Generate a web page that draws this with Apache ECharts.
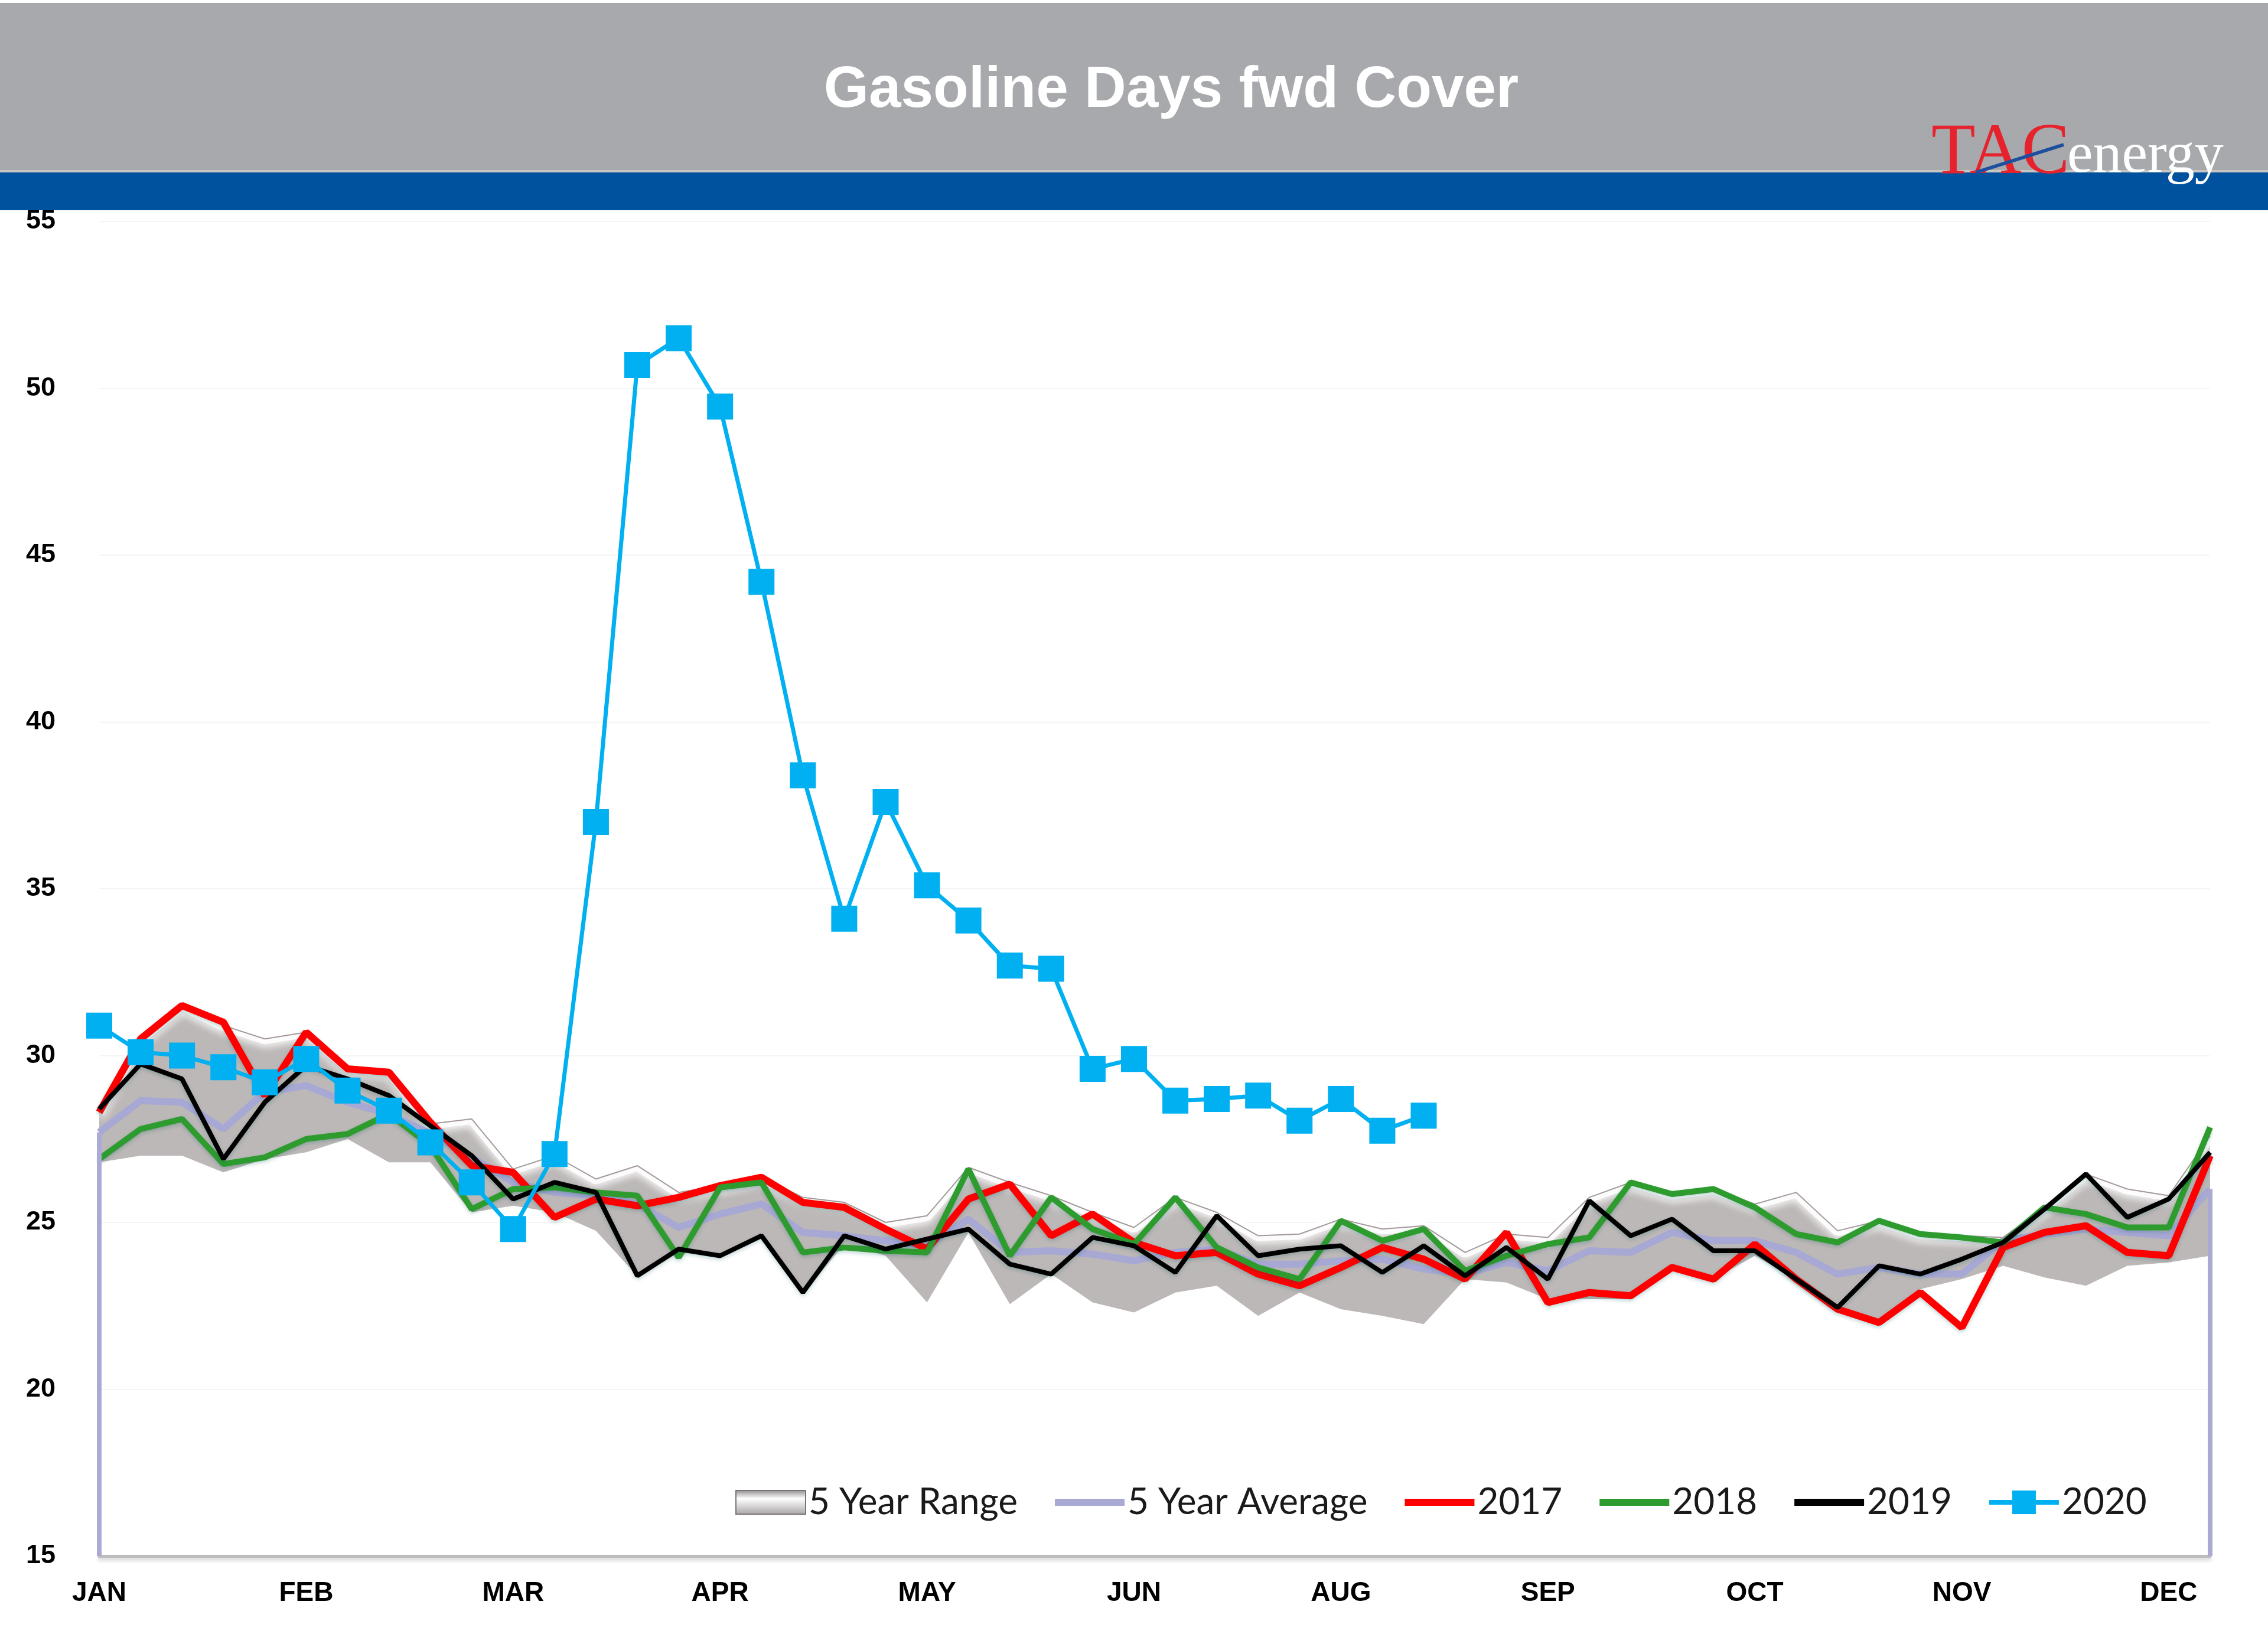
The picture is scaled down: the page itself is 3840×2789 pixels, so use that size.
<!DOCTYPE html>
<html>
<head>
<meta charset="utf-8">
<script src="https://cdn.jsdelivr.net/npm/echarts@6/dist/echarts.min.js"></script>
<style>
html,body{margin:0;padding:0;background:#ffffff;}
#chart{width:3840px;height:2789px;}
</style>
</head>
<body>
<div id="chart"></div>
<script>
// ---------------- DATA ----------------
const chartTitle = 'Gasoline Days fwd Cover';
const monthLabels = ['JAN','FEB','MAR','APR','MAY','JUN','AUG','SEP','OCT','NOV','DEC'];
const weeks = ['W1','W2','W3','W4','W5','W6','W7','W8','W9','W10','W11','W12','W13','W14','W15','W16','W17','W18','W19','W20','W21','W22','W23','W24','W25','W26','W27','W28','W29','W30','W31','W32','W33','W34','W35','W36','W37','W38','W39','W40','W41','W42','W43','W44','W45','W46','W47','W48','W49','W50','W51','W52'];
const yMin = 15, yMax = 55, yStep = 5;

const range5Min = [26.8,27.0,27.0,26.5,26.9,27.1,27.5,26.8,26.8,25.3,
  25.5,25.3,24.75,23.4,24.1,24.0,24.55,22.85,24.35,24.0,
  22.6,24.7,22.55,23.45,22.6,22.3,22.9,23.1,22.2,22.9,
  22.4,22.2,21.95,23.3,23.2,22.7,22.7,22.7,23.55,23.3,
  24.0,23.3,22.3,22.0,23.0,23.3,23.7,23.35,23.1,23.7,
  23.8,24.0];
const range5Max = [28.3,30.5,31.5,30.9,30.5,30.7,29.65,29.55,27.95,28.1,
  26.6,27.0,26.3,26.7,25.9,26.1,26.35,25.75,25.6,25.0,
  25.2,26.65,26.2,25.8,25.3,24.85,25.75,25.3,24.6,24.65,
  25.1,24.8,24.9,24.1,24.65,24.55,25.75,26.2,25.85,26.0,
  25.55,25.9,24.75,25.05,24.65,24.6,24.55,25.45,26.45,26.0,
  25.8,27.6];
const avg5 = [27.7,28.65,28.6,27.8,28.9,29.1,28.6,28.25,27.65,26.95,
  26.2,25.9,25.8,25.55,24.85,25.25,25.55,24.7,24.6,24.45,
  24.3,25.1,24.1,24.15,24.05,23.85,24.1,24.2,23.75,23.75,
  23.85,23.9,23.6,23.45,23.8,23.55,24.15,24.1,24.7,24.45,
  24.45,24.1,23.45,23.65,23.45,23.45,24.45,24.65,24.8,24.7,
  24.6,26.0];
const y2017 = [28.3,30.5,31.5,31.0,28.8,30.7,29.6,29.5,28.0,26.7,
  26.5,25.15,25.7,25.5,25.75,26.1,26.35,25.6,25.45,24.8,
  24.2,25.7,26.15,24.6,25.25,24.4,24.0,24.1,23.45,23.1,
  23.65,24.25,23.9,23.3,24.7,22.6,22.9,22.8,23.65,23.3,
  24.35,23.3,22.4,22.0,22.9,21.85,24.25,24.7,24.9,24.1,
  24.0,27.0];
const y2018 = [26.9,27.8,28.1,26.75,26.95,27.5,27.65,28.25,27.3,25.4,
  26.0,26.05,25.9,25.8,23.95,26.05,26.2,24.1,24.25,24.15,
  24.1,26.6,24.0,25.75,24.8,24.35,25.75,24.25,23.65,23.3,
  25.05,24.45,24.8,23.55,24.0,24.35,24.55,26.2,25.85,26.0,
  25.45,24.65,24.4,25.05,24.65,24.55,24.4,25.45,25.25,24.85,
  24.85,27.85];
const y2019 = [28.4,29.75,29.3,26.9,28.6,29.7,29.3,28.8,27.9,27.0,
  25.7,26.2,25.9,23.4,24.2,24.0,24.6,22.9,24.6,24.2,
  24.5,24.8,23.75,23.45,24.55,24.3,23.5,25.2,24.0,24.2,
  24.3,23.5,24.3,23.4,24.25,23.3,25.65,24.6,25.1,24.15,
  24.15,23.3,22.45,23.7,23.45,23.9,24.4,25.4,26.45,25.15,
  25.7,27.1];
const y2020 = [30.9,30.1,30.0,29.65,29.2,29.9,28.95,28.35,27.4,26.2,
  24.8,27.05,37.0,50.7,51.5,49.45,44.2,38.4,34.1,37.6,
  35.1,34.05,32.7,32.6,29.6,29.9,28.65,28.7,28.8,28.05,
  28.7,27.75,28.2];

// derived: band thickness for the stacked range area
const rangeSpan = range5Max.map((v, i) => +(v - range5Min[i]).toFixed(2));

// ---------------- CHART ----------------
const chart = echarts.init(document.getElementById('chart'), null, {renderer: 'canvas'});

const gridLeft = 168, gridRight = 98, gridTop = 375, gridBottom = 154;
const lineShadow = {shadowColor: 'rgba(0,90,90,0.25)', shadowBlur: 6, shadowOffsetY: 3};
const barIcon = 'path://M0,0h118v12h-118z';
const markerIcon = 'path://M0,16h118v8h-118z M39,0h40v40h-40z';

const option = {
  backgroundColor: '#ffffff',
  animation: false,
  grid: {left: gridLeft, right: gridRight, top: gridTop, bottom: gridBottom, containLabel: false},
  graphic: [
    {type: 'rect', z: 0, shape: {x: 0, y: 5, width: 3840, height: 285}, style: {fill: '#a7a9ac'}},
    {type: 'rect', z: 0, shape: {x: 0, y: 288, width: 3840, height: 4}, style: {fill: '#c9c6c2'}},
    {type: 'rect', z: 0, shape: {x: 0, y: 292, width: 3840, height: 64}, style: {fill: '#00529f'}},
    {type: 'text', z: 10, x: 1983, y: 154, style: {
      text: chartTitle, fill: '#ffffff', font: 'bold 98px "Liberation Sans", Arial, sans-serif',
      textAlign: 'center', textVerticalAlign: 'middle',
      shadowColor: 'rgba(40,40,40,0.75)', shadowBlur: 5, shadowOffsetX: 2, shadowOffsetY: 6}},
    {type: 'text', z: 10, x: 3270, y: 322, style: {
      text: 'TAC', fill: '#e6232d', font: '122px "Liberation Serif", "Times New Roman", serif',
      textAlign: 'left', textVerticalAlign: 'bottom'}},
    {type: 'line', z: 11, shape: {x1: 3345, y1: 292, x2: 3494, y2: 245}, style: {stroke: '#1d4f9e', lineWidth: 6}},
    {type: 'text', z: 10, x: 3500, y: 314, style: {
      text: 'energy', fill: '#ffffff', font: '98px "Liberation Serif", "Times New Roman", serif',
      textAlign: 'left', textVerticalAlign: 'bottom'}}
  ],
  legend: {
    left: 1240, top: 2508,
    itemWidth: 118, itemHeight: 40, itemGap: 63,
    textStyle: {fontFamily: 'Lato, "Liberation Sans", sans-serif', fontSize: 62, color: '#1a1a1a'},
    data: [
      {name: '5 Year Range', icon: 'rect', itemStyle: {
        color: new echarts.graphic.LinearGradient(0, 0, 0, 1, [
          {offset: 0, color: '#8f8b8b'}, {offset: 0.35, color: '#ffffff'}, {offset: 1, color: '#a9a5a5'}]),
        borderColor: '#7a7676', borderWidth: 2}},
      {name: '5 Year Average', icon: barIcon, itemStyle: {color: '#a9a9d5'}},
      {name: '2017', icon: barIcon, itemStyle: {color: '#ff0000'}},
      {name: '2018', icon: barIcon, itemStyle: {color: '#2e9b2e'}},
      {name: '2019', icon: barIcon, itemStyle: {color: '#000000'}},
      {name: '2020', icon: markerIcon, itemStyle: {color: '#00b0f0'}}
    ]
  },
  xAxis: {
    type: 'category', data: weeks, boundaryGap: false,
    axisLine: {show: true, lineStyle: {color: '#bdbdbd', width: 5, shadowColor: 'rgba(0,0,0,0.2)', shadowBlur: 6, shadowOffsetY: 4}},
    axisTick: {show: false},
    axisLabel: {
      interval: 4, margin: 40, color: '#000000',
      fontFamily: '"Liberation Sans", Arial, sans-serif', fontWeight: 'bold', fontSize: 46,
      formatter: (v, i) => monthLabels[Math.round(i / 5)] || ''
    },
    splitLine: {show: false}
  },
  yAxis: {
    type: 'value', min: yMin, max: yMax, interval: yStep,
    axisLine: {show: false}, axisTick: {show: false},
    axisLabel: {margin: 74, color: '#000000', fontFamily: '"Liberation Sans", Arial, sans-serif', fontWeight: 'bold', fontSize: 45},
    splitLine: {show: true, lineStyle: {color: '#f5f5f5', width: 2}}
  },
  series: [
    {name: 'rangeBase', type: 'line', stack: 'range', data: range5Min, symbol: 'none',
      lineStyle: {opacity: 0, width: 0}, areaStyle: {opacity: 0}, silent: true, z: 1},
    {name: '5 Year Range', type: 'line', stack: 'range', data: rangeSpan, symbol: 'none',
      itemStyle: {color: '#bbb7b6'},
      lineStyle: {opacity: 0, width: 0}, areaStyle: {color: '#bcb8b7', opacity: 1}, silent: true, z: 1},
    {name: 'rangeHighlight', type: 'line', data: range5Max, symbol: 'none', silent: true, z: 1,
      lineStyle: {color: 'rgba(255,255,255,0.85)', width: 18, shadowColor: 'rgba(255,255,255,0.9)', shadowBlur: 12, shadowOffsetY: 6}},
    {name: 'rangeEdge', type: 'line', data: range5Max, symbol: 'none', silent: true, z: 1,
      lineStyle: {color: '#a49a9a', width: 2}},
    {name: '5 Year Average', type: 'line', data: avg5, symbol: 'none', z: 2,
      itemStyle: {color: '#a9a9d5'},
      lineStyle: {color: '#a8a8d4', width: 12},
      markLine: {silent: true, symbol: ['none', 'none'], label: {show: false},
        lineStyle: {color: '#aaaad4', width: 8, type: 'solid'},
        data: [
          [{coord: [weeks[0], avg5[0]]}, {coord: [weeks[0], yMin]}],
          [{coord: [weeks[51], avg5[51]]}, {coord: [weeks[51], yMin]}]
        ]}},
    {name: '2017', type: 'line', data: y2017, symbol: 'none', z: 3,
      itemStyle: {color: '#ff0000'}, lineStyle: Object.assign({color: '#ff0000', width: 12}, lineShadow)},
    {name: '2018', type: 'line', data: y2018, symbol: 'none', z: 3,
      itemStyle: {color: '#2e9b2e'}, lineStyle: Object.assign({color: '#2e9b2e', width: 10}, lineShadow)},
    {name: '2019', type: 'line', data: y2019, symbol: 'none', z: 3,
      itemStyle: {color: '#000000'}, lineStyle: Object.assign({color: '#000000', width: 8}, lineShadow)},
    {name: '2020', type: 'line', data: y2020, symbol: 'rect', symbolSize: 44, showAllSymbol: true, z: 4,
      itemStyle: {color: '#00b0f0'}, lineStyle: {color: '#00b0f0', width: 7}}
  ]
};
chart.setOption(option);
</script>
</body>
</html>
